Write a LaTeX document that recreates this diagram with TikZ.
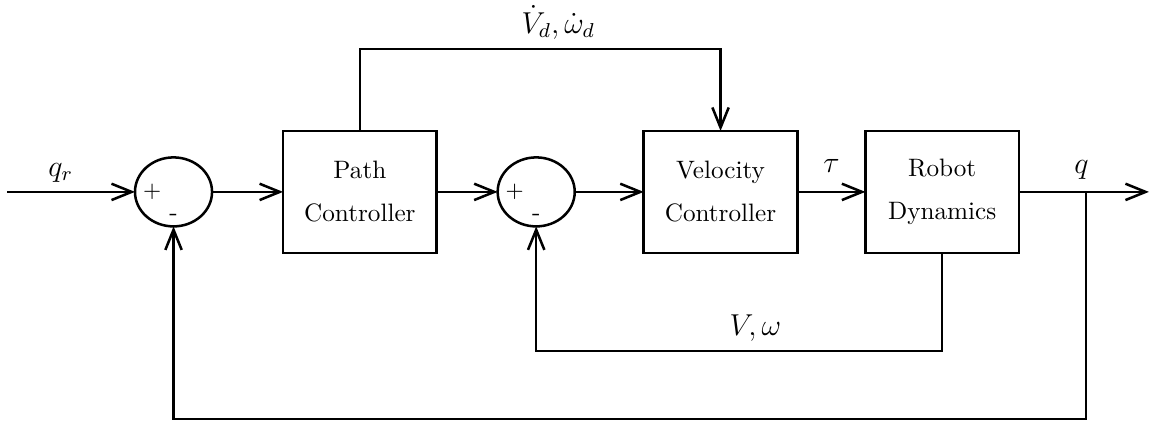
\documentclass[tikz,border=0pt]{standalone}
\usetikzlibrary{positioning,shapes.geometric,arrows.meta}
\begin{document}
\begin{tikzpicture}[line width=1pt, >={Straight Barb[length=8pt,width=6.5pt]}]
        \tikzstyle{block}=[draw, rectangle, outer sep=0pt, minimum width=61pt, minimum height=48.4pt, align=center];
        \tikzstyle{sum}=[draw, ellipse, outer sep=0pt, minimum width=30.6pt, minimum height=27.4pt, inner sep=0pt];
        \tikzstyle{sig}=[font=\large];

        \useasboundingbox (-2.8pt,-91.3pt) rectangle (456.2pt,76.2pt);

        \coordinate (in) at (0,0);
        \node[sum, right=50.8pt of in] (sum1) {};
        \node[block, right=28.2pt of sum1] (path) {Path\\[5pt]Controller};
        \node[sum, right=24.2pt of path] (sum2) {};
        \node[block, right=27.4pt of sum2] (vel) {Velocity\\[5pt]Controller};
        \node[block, right=27pt of vel] (robot) {Robot\\[5pt]Dynamics};
        \coordinate[right=26.6pt of robot] (br);
        \coordinate[right=25pt of br] (out);

        % signs of the summing junctions
        \node[font=\small, inner sep=0pt] (plus1) at ([xshift=6.8pt]sum1.west) {+};
        \node[inner sep=0pt] (minus1) at ([yshift=3.6pt]sum1.south) {-};
        \node[font=\small, inner sep=0pt] (plus2) at ([xshift=6.8pt]sum2.west) {+};
        \node[inner sep=0pt] (minus2) at ([yshift=3.6pt]sum2.south) {-};

        \draw[->] (in) -- node[sig, pos=0.42, above] {$q_r$} (sum1);
        \draw[->] (sum1) -- (path);
        \draw[->] (path) -- (sum2);
        \draw[->] (sum2) -- (vel);
        \draw[->] (vel) -- node[sig, above, yshift=4pt] {$\tau$} (robot);
        \draw[->] (robot) -- node[sig, pos=0.48, above, yshift=1pt] {$q$} (out);

        % feed forward and feedback loops
        \draw[->] (path.north) -- ++(0,32.6pt) -| node[sig, pos=0.275, above] {$\dot{V}_d,\dot{\omega}_d$} (vel);
        \draw[->] (robot.south) -- ++(0,-38.9pt) -| node[sig, pos=0.23, above] {$V,\omega$} (sum2);
        \draw[->] (br) -- ++(0,-90.1pt) -| (sum1);
    \end{tikzpicture}
\end{document}
